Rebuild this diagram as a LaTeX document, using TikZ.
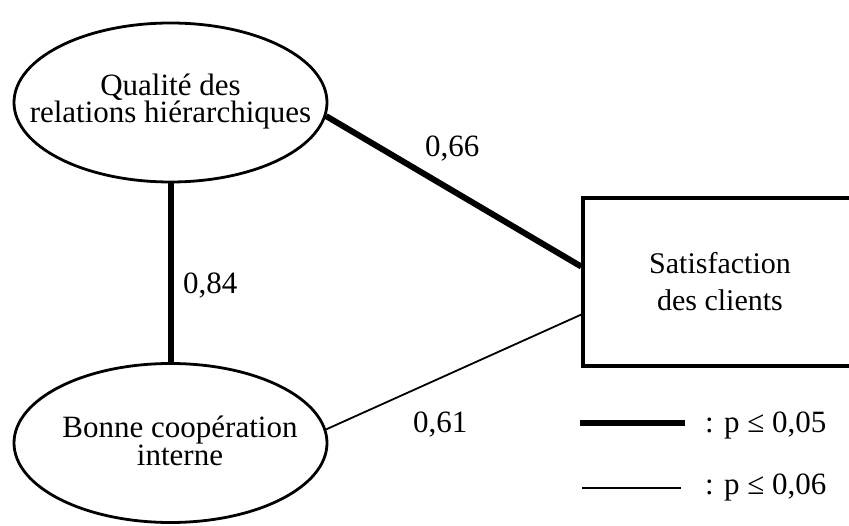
\documentclass[tikz,border=0pt]{standalone}
\usepackage{fontspec}
\setmainfont{Liberation Serif}
\usetikzlibrary{shapes.geometric,calc}
\begin{document}
\begin{tikzpicture}[x=1pt,y=-1pt,
  latent/.style={ellipse,draw,line width=2.8pt,minimum width=313pt,minimum height=159pt,inner sep=0pt},
  ltext/.style={align=center,inner sep=0pt,font=\fontsize{31}{26.5}\selectfont},
  obs/.style={rectangle,draw,line width=3.5pt,minimum width=274pt,minimum height=168pt,inner sep=0pt,align=center,font=\fontsize{30}{37}\selectfont},
  strong/.style={line width=6pt},
  weak/.style={line width=1.8pt},
  lab/.style={anchor=base west,inner sep=0pt,font=\fontsize{31}{31}\selectfont}]
\useasboundingbox (0,0) rectangle (849,526);
\clip (0,0) rectangle (849,526);
\node[latent] (qual) at (170.5,102.5) {};
\node[ltext] (qualt) at (170.5,101.5) {Qualité des\\relations hiérarchiques};
\node[latent] (coop) at (170.5,443) {};
\node[ltext] (coopt) at (180,441) {Bonne coopération\\interne};
\node[obs] (sat) at (720,282) {Satisfaction\\des clients};
\coordinate (satA) at ($(sat.north west)!0.41!(sat.south west)$);
\coordinate (satB) at ($(sat.north west)!0.69!(sat.south west)$);
\draw[strong] (qual.south) -- (coop.north);
\draw[strong] (qual.-5) -- (satA);
\draw[weak] (coop.5) -- (satB);
\node[lab] (l66) at (425,157) {0,66};
\node[lab] (l84) at (183,294) {0,84};
\node[lab] (l61) at (413,433) {0,61};
\coordinate (k1a) at (580,423);
\coordinate (k1b) at (685,423);
\coordinate (k2a) at (582,488);
\coordinate (k2b) at (681,488);
\draw[strong] (k1a) -- (k1b);
\draw[weak] (k2a) -- (k2b);
\node[lab] (t1) at (705,432) {: p ≤ 0,05};
\node[lab] (t2) at (705,494) {: p ≤ 0,06};
\end{tikzpicture}
\end{document}
